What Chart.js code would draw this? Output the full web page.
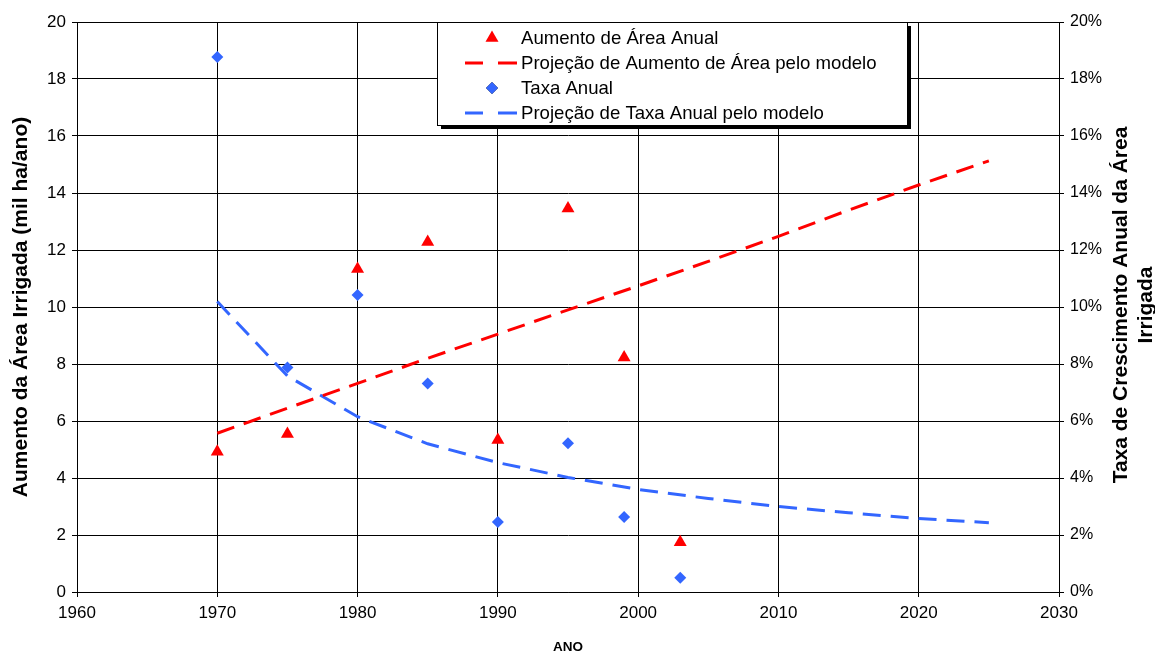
<!DOCTYPE html>
<html>
<head>
<meta charset="utf-8">
<script src="https://cdn.jsdelivr.net/npm/chart.js@4"></script>
<style>
  html, body { margin: 0; padding: 0; background: #fff; }
  #wrap { width: 1155px; height: 655px; position: relative; }
</style>
</head>
<body>
<div id="wrap"><canvas id="chart" width="1155" height="655"></canvas></div>
<script>
// data
let anos = [1970, 1975, 1980, 1985, 1990, 1995, 1999, 2003]
let aumentoArea = [4.92, 5.54, 11.33, 12.28, 5.33, 13.46, 8.23, 1.75]          // mil ha/ano
let taxaAnual = [18.77, 7.88, 10.42, 7.32, 2.46, 5.22, 2.63, 0.5]              // %

let anosModelo = [1970, 1975, 1980, 1985, 1990, 1995, 2000, 2005, 2010, 2015, 2020, 2025]
let projAumento = [5.57, 6.45, 7.32, 8.2, 9.05, 9.9, 10.74, 11.6, 12.48, 13.4, 14.28, 15.13]
let projTaxa = [10.19, 7.58, 6.15, 5.2, 4.54, 4.02, 3.6, 3.28, 3.0, 2.78, 2.58, 2.43]

let legendLabels = [
    "Aumento de Área Anual",
    "Projeção de Aumento de Área pelo modelo",
    "Taxa Anual",
    "Projeção de Taxa Anual pelo modelo"
]

const RED = "#FF0000"
const BLUE = "#3366FF"
const FONT = "'Liberation Sans', Arial, sans-serif"

const toPoints = (xs, ys) => xs.map((x, i) => ({ x: x, y: ys[i] }))

// white background
const whiteBg = {
    id: 'whiteBg',
    beforeDraw(chart) {
        const ctx = chart.ctx
        ctx.save()
        ctx.fillStyle = '#fff'
        ctx.fillRect(0, 0, chart.width, chart.height)
        ctx.restore()
    }
}

// legend box sits inside the plot, excel style, with a shadow
const boxLegend = {
    id: 'boxLegend',
    afterDraw(chart) {
        const ctx = chart.ctx
        const bx = 437, by = 22, bw = 470, bh = 103
        ctx.save()
        ctx.fillStyle = '#000'
        ctx.fillRect(bx + 4, by + 4, bw, bh)
        ctx.fillStyle = '#fff'
        ctx.fillRect(bx, by, bw, bh)
        ctx.strokeStyle = '#000'
        ctx.lineWidth = 1
        ctx.strokeRect(bx + 0.5, by + 0.5, bw, bh)

        ctx.font = '18.6px ' + FONT
        ctx.textBaseline = 'middle'
        ctx.textAlign = 'left'
        chart.data.datasets.forEach((ds, i) => {
            const y = 38 + i * 25
            if (ds.showLine) {
                ctx.strokeStyle = ds.borderColor
                ctx.lineWidth = 3
                ctx.beginPath()
                ctx.moveTo(465, y); ctx.lineTo(483, y)
                ctx.moveTo(498, y); ctx.lineTo(517, y)
                ctx.stroke()
            } else {
                Chart.helpers.drawPoint(ctx, {
                    pointStyle: ds.pointStyle,
                    radius: ds.pointRadius,
                    borderWidth: 0,
                    rotation: 0
                }, 492, y)
                ctx.fillStyle = ds.backgroundColor
                ctx.fill()
            }
            ctx.fillStyle = '#000'
            ctx.fillText(legendLabels[i], 521, y + 1)
        })
        ctx.restore()
    }
}

// right axis title reads bottom to top in two lines
const rightTitle = {
    id: 'rightTitle',
    afterDraw(chart) {
        const ctx = chart.ctx
        ctx.save()
        ctx.fillStyle = '#000'
        ctx.font = 'bold 21px ' + FONT
        ctx.textAlign = 'center'
        ctx.textBaseline = 'middle'
        ctx.translate(1121, 305)
        ctx.rotate(-Math.PI / 2)
        ctx.fillText('Taxa de Crescimento Anual da Área', 0, 0)
        ctx.fillText('Irrigada', 0, 25)
        ctx.restore()
    }
}

new Chart(document.getElementById("chart"), {
    type: 'scatter',
    data: {
        datasets: [{
            label: legendLabels[0],
            data: toPoints(anos, aumentoArea),
            yAxisID: 'y',
            pointStyle: 'triangle',
            pointRadius: 7.5,
            backgroundColor: RED,
            borderColor: RED,
            borderWidth: 0,
            showLine: false,
            order: 2
        }, {
            label: legendLabels[1],
            data: toPoints(anosModelo, projAumento),
            yAxisID: 'y',
            showLine: true,
            borderColor: RED,
            borderWidth: 3,
            borderDash: [18, 10],
            pointRadius: 0,
            order: 3
        }, {
            label: legendLabels[2],
            data: toPoints(anos, taxaAnual),
            yAxisID: 'y1',
            pointStyle: 'rectRot',
            pointRadius: 6,
            backgroundColor: BLUE,
            borderColor: BLUE,
            borderWidth: 0,
            showLine: false,
            order: 1
        }, {
            label: legendLabels[3],
            data: toPoints(anosModelo, projTaxa),
            yAxisID: 'y1',
            showLine: true,
            borderColor: BLUE,
            borderWidth: 3,
            borderDash: [18, 10],
            pointRadius: 0,
            order: 4
        }]
    },
    options: {
        responsive: false,
        animation: false,
        layout: { padding: { top: 22, left: 0, right: 0, bottom: 0 } },
        plugins: {
            legend: { display: false },
            tooltip: { enabled: false }
        },
        scales: {
            x: {
                type: 'linear',
                min: 1960,
                max: 2030,
                afterFit: s => { s.height = 63 },
                ticks: {
                    stepSize: 10,
                    color: '#000',
                    font: { family: FONT, size: 17 },
                    padding: 6,
                    callback: v => String(v)
                },
                grid: { color: '#000', tickLength: 5, lineWidth: 1 },
                border: { color: '#000' },
                title: {
                    display: true,
                    text: 'ANO',
                    color: '#000',
                    font: { family: FONT, size: 13.5, weight: 'bold' },
                    padding: { top: 0, bottom: 0 }
                }
            },
            y: {
                position: 'left',
                min: 0,
                max: 20,
                afterFit: s => { s.width = 77 },
                ticks: {
                    stepSize: 2,
                    color: '#000',
                    font: { family: FONT, size: 17 },
                    padding: 6
                },
                grid: { color: '#000', tickLength: 5, lineWidth: 1 },
                border: { color: '#000' },
                title: {
                    display: true,
                    text: 'Aumento da Área Irrigada (mil ha/ano)',
                    color: '#000',
                    font: { family: FONT, size: 21, weight: 'bold' },
                    padding: { top: 9, bottom: 0 }
                }
            },
            y1: {
                position: 'right',
                min: 0,
                max: 20,
                afterFit: s => { s.width = 96 },
                ticks: {
                    stepSize: 2,
                    color: '#000',
                    font: { family: FONT, size: 16 },
                    padding: 6,
                    callback: v => v + '%'
                },
                grid: { drawOnChartArea: false, color: '#000', tickLength: 5 },
                border: { color: '#000' }
            }
        }
    },
    plugins: [whiteBg, boxLegend, rightTitle]
});
</script>
</body>
</html>
